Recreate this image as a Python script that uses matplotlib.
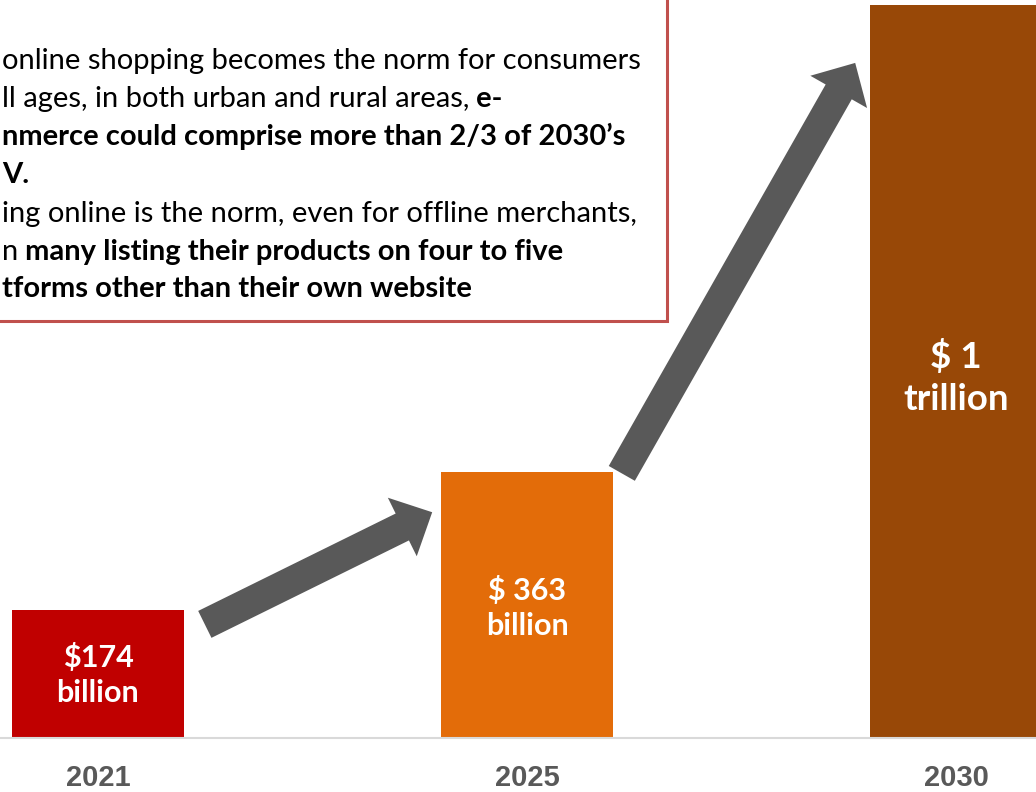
import matplotlib
matplotlib.use("Agg")
import matplotlib.pyplot as plt
from matplotlib.patches import FancyArrowPatch, Rectangle
from matplotlib.text import Annotation

# ---- data ----
years = ["2021", "2025", "2030"]
values = [174, 363, 1000]          # US$ billion
value_labels = ["$174\nbillion", "$ 363\nbillion", "$ 1\ntrillion"]
bar_colors = ["#C00000", "#E36C09", "#984807"]

# growth arrows (decoration): (x0, y0) -> (x1, y1) in data units
arrow_from = [(0.249, 155), (1.221, 361)]
arrow_to = [(0.779, 308), (1.765, 921)]

# text box lines (visible part): list of (text, bold) segments
box_lines = [
    [("online shopping becomes the norm for consumers", False)],
    [("ll ages, in both urban and rural areas,", False), (" e-", True)],
    [("nmerce could comprise more than 2/3 of 2030\u2019s", True)],
    [("V.", True)],
    [("ing online is the norm, even for offline merchants,", False)],
    [("n", False), (" many listing their products on four to five", True)],
    [("tforms other than their own website", True)],
]

W, H = 1036, 792
fig = plt.figure(figsize=(W / 100, H / 100), dpi=100)
ax = fig.add_axes([0, 54 / H, 1, 738 / H])
ax.patch.set_alpha(0)

x = list(range(len(years)))
ax.bar(x, values, width=0.401, color=bar_colors, zorder=2)
ax.set_xlim(-98 / 429, (W - 98) / 429)
ax.set_ylim(0, 738 / 0.733)

label_sizes = [22, 22, 26.5]
label_shift = [-1, -3, -6]   # small vertical nudges in pixels
for xi, v, lab, fs, dy in zip(x, values, value_labels, label_sizes, label_shift):
    ax.annotate(lab, xy=(xi, v / 2), xytext=(0, dy * 0.72), textcoords="offset points",
                ha="center", va="center", color="white",
                fontsize=fs, fontweight="bold", family="Lato", linespacing=1.3,
                zorder=3)

for (x0, y0), (x1, y1) in zip(arrow_from, arrow_to):
    arr = FancyArrowPatch((x0, y0), (x1, y1),
                          arrowstyle="simple,head_length=24,head_width=47,tail_width=21.6",
                          mutation_scale=1, color="#595959", lw=0,
                          shrinkA=0, shrinkB=0, zorder=4)
    ax.add_patch(arr)

ax.set_xticks(x, years)
ax.tick_params(axis="x", length=0, pad=19, labelsize=21, labelcolor="#595959")
for t in ax.get_xticklabels():
    t.set_fontfamily("Liberation Sans")
    t.set_fontweight("bold")
ax.set_yticks([])
for s in ["left", "right", "top"]:
    ax.spines[s].set_visible(False)
ax.spines["bottom"].set_color("#D9D9D9")
ax.spines["bottom"].set_linewidth(1.5)

# text box
box = Rectangle((-20 / W, 1 - 321 / H), (667 + 20) / W, 321 / H + 0.1,
                transform=fig.transFigure, facecolor="white",
                edgecolor="#C0504D", linewidth=2.2, zorder=1, clip_on=False)
fig.patches.append(box)

baselines = [69, 107, 145, 183, 222, 260, 297]
fs_box = 21
for line, b in zip(box_lines, baselines):
    prev = None
    for seg, bold in line:
        weight = "bold" if bold else "normal"
        if prev is None:
            prev = fig.text(2 / W, 1 - b / H, seg, zorder=5, fontsize=fs_box,
                            family="Lato", color="black", fontweight=weight,
                            va="baseline", ha="left")
        else:
            an = Annotation(seg, xy=(1, 0), xycoords=prev, annotation_clip=False,
                            fontsize=fs_box, family="Lato", color="black",
                            fontweight=weight, va="bottom", ha="left")
            an.set_zorder(5)
            fig.add_artist(an)
            prev = an

fig.savefig("out.png", dpi=100)
